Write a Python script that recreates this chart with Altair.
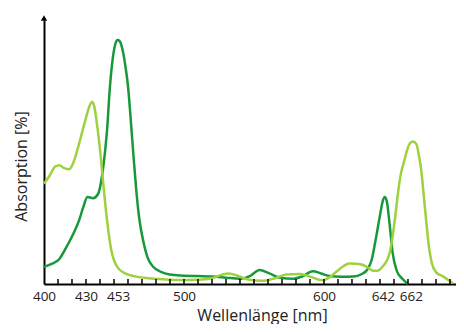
import altair as alt
import pandas as pd

# Chlorophyll b-like curve (dark green)
dark_nm = [400, 405, 411, 415, 420, 425, 428, 431, 435, 438.5, 442, 445, 447, 449, 451, 452.5,
           454, 456, 458, 460, 462, 464, 466, 468, 471, 474, 478, 484, 490, 497, 510, 521, 530,
           540, 547, 554, 561, 568, 578, 585, 592, 598, 604, 612, 621, 627, 631, 634, 637, 640,
           642, 643.5, 645, 647, 649, 652, 656, 660]
dark_abs = [6.5, 7.5, 9.5, 13, 18, 24, 29, 33, 32.5, 34, 43, 58, 74, 85, 91, 92.4,
            92, 89, 83, 75, 62, 48, 35, 25, 16, 10, 6.5, 4.5, 3.6, 3.2, 3, 2.8, 2.4,
            2, 3, 5.3, 4, 2.5, 2, 3, 4.8, 4, 3, 2.7, 2.8, 3.8, 5.5, 9, 17, 26,
            31.5, 33, 31, 22, 12, 5, 2, 0]

# Chlorophyll a-like curve (light green)
light_nm = [400, 404, 408, 411, 414, 418, 421, 425, 429, 433, 434.5, 436, 438, 440, 442, 444,
            446, 448, 450, 453, 458, 466, 475, 485, 497, 510, 520, 527, 532, 538, 545, 556,
            565, 573, 583, 590, 599, 604, 609, 614, 618, 623, 628, 632, 635, 638, 642, 645,
            647, 649, 651, 653, 655, 657, 659, 661, 663.5, 666, 668, 669.5, 671, 673, 675,
            677, 680, 685, 692]
light_abs = [38, 41, 44.5, 45, 44, 43.5, 46, 53, 61, 68, 69, 67, 60, 51, 40, 29,
             20, 13, 9, 6, 4, 2.8, 2.2, 1.8, 1.5, 1.6, 2.2, 3.5, 4, 3.2, 1.8, 1.2,
             2.2, 3.6, 3.8, 2.8, 1.4, 2.5, 4.7, 6.8, 7.8, 7.7, 7.2, 6, 5, 5, 6.7, 9,
             12, 18, 26, 35, 42, 46, 50, 53, 54, 53, 48, 43, 35, 24, 14,
             8, 4.5, 2.9, 0.3]

tick_nm = list(range(410, 700, 10))
label_nm = [400, 430, 453, 500, 600, 642, 662]

DARK = "#17993b"
LIGHT = "#9fd03e"
FONT = "Open Sans"
W, H = 412, 264

df = pd.concat([
    pd.DataFrame({"nm": dark_nm, "abs": dark_abs, "s": "b"}),
    pd.DataFrame({"nm": light_nm, "abs": light_abs, "s": "a"}),
])

xs = alt.Scale(domain=[400, 694.3], nice=False, zero=False)
ys = alt.Scale(domain=[0, 100], nice=False)

lines = alt.Chart(df).mark_line(strokeWidth=2.5, interpolate="monotone").encode(
    x=alt.X("nm:Q", scale=xs, axis=alt.Axis(
        values=label_nm, tickSize=0, labelPadding=5, domainColor="black", domainWidth=2,
        labelFont=FONT, labelFontSize=13.5, labelColor="#222", labelFlush=False,
        title="Wellenlänge [nm]", titleFont=FONT, titleFontSize=16, titleFontWeight="normal",
        titleColor="#222", titleX=218, titleY=36, titleBaseline="alphabetic", grid=False)),
    y=alt.Y("abs:Q", scale=ys, axis=alt.Axis(
        ticks=False, labels=False, domainColor="black", domainWidth=2, grid=False,
        title="Absorption [%]", titleFont=FONT, titleFontSize=16, titleFontWeight="normal",
        titleColor="#222", titleX=-23, titleY=146, titleBaseline="middle", titleAlign="center")),
    color=alt.Color("s:N", scale=alt.Scale(domain=["a", "b"], range=[LIGHT, DARK]), legend=None),
    detail="s:N",
)

ticks = alt.Chart(pd.DataFrame({"nm": tick_nm})).mark_rule(color="black", strokeWidth=1.5).encode(
    x=alt.X("nm:Q", scale=xs),
    y=alt.value(H - 5),
    y2=alt.value(H),
)

arrow = alt.Chart(pd.DataFrame({"nm": [400], "v": [100]})).mark_point(
    shape="triangle-up", filled=True, color="black", opacity=1, size=40, yOffset=-2
).encode(x=alt.X("nm:Q", scale=xs), y=alt.Y("v:Q", scale=ys))

chart = alt.layer(lines, ticks, arrow).properties(
    width=W, height=H, autosize="none",
    padding={"left": 36, "top": 12, "right": 0, "bottom": 40},
).configure(background="white").configure_view(stroke=None, strokeWidth=0)

chart.save("out.html", embed_options={"renderer": "svg", "actions": False})
